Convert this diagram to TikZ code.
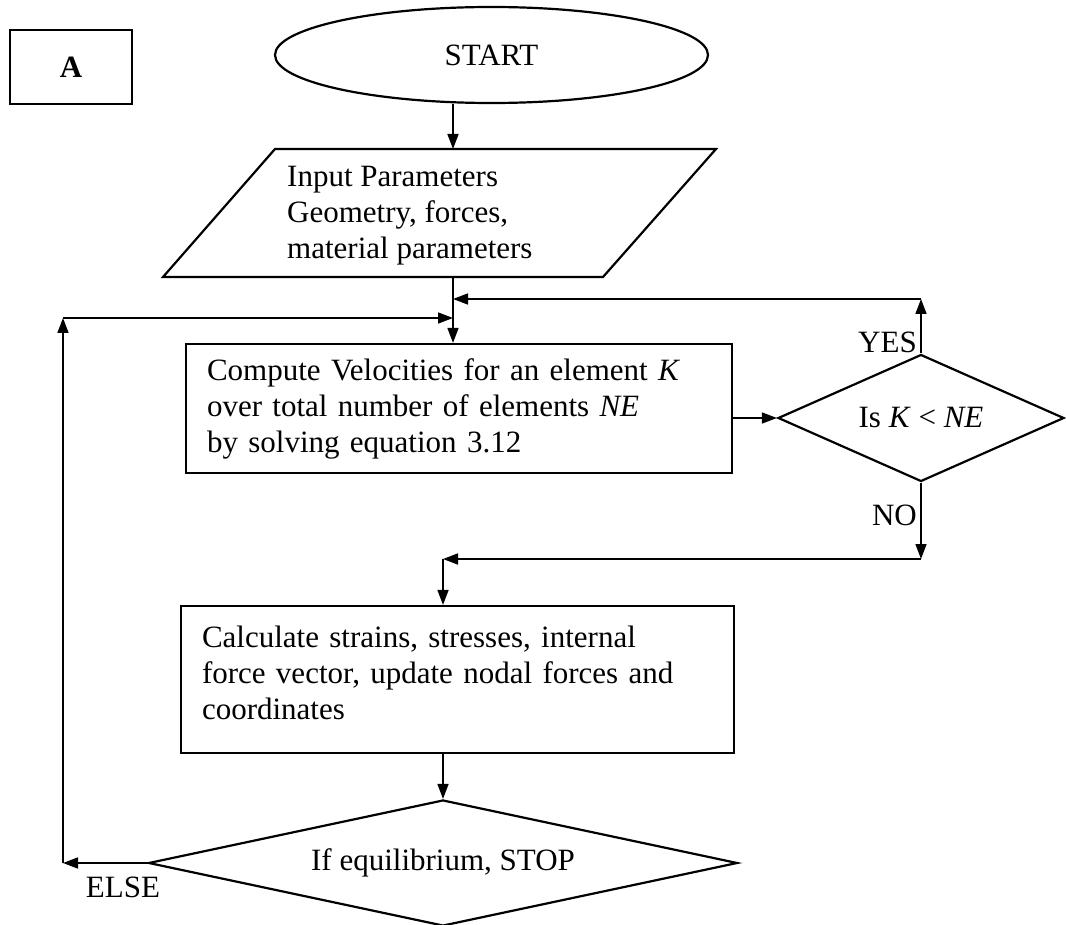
\documentclass[tikz,border=0pt]{standalone}
\usepackage{fontspec}
\setmainfont{Liberation Serif}
\usetikzlibrary{shapes.geometric,arrows.meta,calc}
\begin{document}
\begin{tikzpicture}[x=1pt,y=-1pt,
  font=\fontsize{31}{36}\selectfont,
  shape line/.style={draw, line width=2.2pt},
  flow/.style={line width=1.6pt, -{Triangle[length=15pt,width=11pt]}},
  box/.style={shape line, rectangle, inner sep=0pt},
  lbl/.style={inner sep=0pt},
]
\useasboundingbox (0,0) rectangle (1066,925);

% panel tag and terminal
\node[box, minimum width=122pt, minimum height=74pt] (tag) at (71,67) {\textbf{A}};
\node[shape line, ellipse, minimum width=433pt, minimum height=96pt, inner sep=0pt] (start) at (491.5,55) {START};

% input parallelogram
\coordinate (pTL) at (275,149);
\coordinate (pTR) at (716,149);
\coordinate (pBR) at (603,277);
\coordinate (pBL) at (163,277);
\draw[shape line] (pTL) -- (pTR) -- (pBR) -- (pBL) -- cycle;
\node[lbl, anchor=west, align=left] (input) at (287,216)
  {Input Parameters\\Geometry, forces,\\material parameters};

% process boxes
\node[box, minimum width=546pt, minimum height=129pt, text width=504pt, align=left] (comp) at (459,408.5)
  {Compute Velocities for an element \textit{K}\\over total number of elements \textit{NE}\\by solving equation 3.12};
\node[box, minimum width=553pt, minimum height=147pt] (calc) at (457.5,679.5) {};
\node[lbl, text width=511pt, align=left] (calctext) at (457.5,673)
  {Calculate strains, stresses, internal\\force vector, update nodal forces and\\coordinates};

% decisions
\node[shape line, diamond, minimum width=286pt, minimum height=127pt, inner sep=0pt, shape aspect=2.25] (test) at (921,418)
  {Is \textit{K} < \textit{NE}};
\node[shape line, diamond, minimum width=589pt, minimum height=126pt, inner sep=0pt, shape aspect=4.6] (eq) at (443,863)
  {If equilibrium, STOP};

% branch labels
\node[lbl, anchor=east] (yes) at (917,342) {YES};
\node[lbl, anchor=east] (no) at (917,515) {NO};
\node[lbl] (else) at (123,887) {ELSE};

% junction points of the loops
\coordinate (spine) at (453,0);
\coordinate (yesjoin) at (453,299);
\coordinate (elsejoin) at (453,318);
\coordinate (elsecorner) at (63,318);
\coordinate (elsebottom) at (63,863);
\coordinate (nocorner) at (921,559);
\coordinate (calcjoin) at (443,559);

% main flow
\draw[flow] (start.south -| spine) -- (pTL -| spine);
\draw[flow] (pBL -| spine) -- (comp.north -| spine);
\draw[flow] (comp.east |- test.west) -- (test.west);
\draw[flow] (calcjoin) -- (calc.north -| calcjoin);
\draw[flow] (calc.south -| eq.north) -- (eq.north);

% YES loop
\draw[flow] (test.north) -- (test.north |- yesjoin);
\draw[flow] (test.north |- yesjoin) -- (yesjoin);

% NO branch
\draw[flow] (test.south) -- (nocorner);
\draw[flow] (nocorner) -- (calcjoin);

% ELSE loop
\draw[flow] (eq.west) -- (elsebottom);
\draw[flow] (elsebottom) -- (elsecorner);
\draw[flow] (elsecorner) -- (elsejoin);
\end{tikzpicture}
\end{document}
